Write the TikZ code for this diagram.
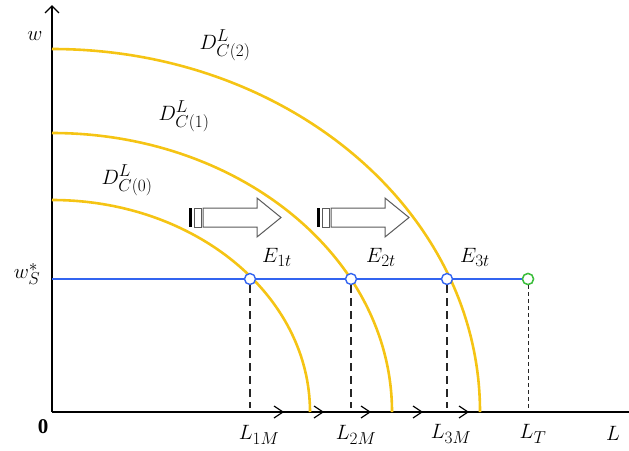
\documentclass[tikz,border=0pt]{standalone}
\usepackage{fontspec}
\setmainfont{Liberation Serif}
\usetikzlibrary{arrows.meta}
\DeclareMathSizes{21}{21}{17}{14}
\definecolor{curveyellow}{RGB}{245,196,20}
\definecolor{lineblue}{RGB}{50,100,240}
\definecolor{ptgreen}{RGB}{60,190,60}
\definecolor{arrgray}{RGB}{90,90,90}
\begin{document}
\begin{tikzpicture}[x=1pt,y=-1pt,
  font=\fontsize{21}{24}\selectfont,
  axis/.style={draw=black, line width=1.4pt},
  curve/.style={draw=curveyellow, line width=2.6pt},
  wline/.style={draw=lineblue, line width=2.6pt},
  ptc/.style={circle, draw=lineblue, fill=white, line width=1.4pt, inner sep=0pt, minimum size=11pt},
  ptg/.style={circle, draw=ptgreen, fill=white, line width=1.4pt, inner sep=0pt, minimum size=11pt},
  thickdash/.style={draw=black!85, line width=2.2pt, dash pattern=on 8pt off 5pt},
  thindash/.style={draw=black!85, line width=1pt, dash pattern=on 4pt off 3pt},
  blockarr/.style={draw=arrgray, fill=white, line width=1pt},
  lbl/.style={inner sep=0pt}]
\useasboundingbox (0,0) rectangle (629,450);
% axes
\coordinate (O) at (52,412);
\coordinate (ytop) at (52,5);
\coordinate (xend) at (629,412);
\draw[axis, -{Straight Barb[length=7pt,width=14pt,line width=1.4pt]}] (O) -- (ytop);
\draw[axis] (O) -- (xend);
% chevrons on x axis
\foreach \x in {283,323,370,422,468}
  \draw[axis, line width=1.2pt] (\x-9,406) -- (\x,412) -- (\x-9,418);
% w_S line
\coordinate (ws) at (52,279);
\node[ptg] (LTp) at (528,279) {};
\draw[wline] (ws) -- (LTp.west);
% demand curves
\draw[curve] (52,200) arc[start angle=270, end angle=360, x radius=258, y radius=212];
\draw[curve] (52,133) arc[start angle=270, end angle=360, x radius=340, y radius=279];
\draw[curve] (52,49) arc[start angle=270, end angle=360, x radius=428, y radius=363];
% equilibrium points
\node[ptc] (E1) at (250,279) {};
\node[ptc] (E2) at (351,279) {};
\node[ptc] (E3) at (447,279) {};
\node[ptg] (LTq) at (528,279) {};
% dashed drops
\coordinate (L1b) at (250,408);
\coordinate (L2b) at (351,408);
\coordinate (L3b) at (447,408);
\coordinate (LTb) at (528,408);
\draw[thickdash] (E1.south) -- (L1b);
\draw[thickdash] (E2.south) -- (L2b);
\draw[thickdash] (E3.south) -- (L3b);
\draw[thindash] (LTq.south) -- (LTb);
% block arrows
\foreach \x in {189,317}{
  \fill[black] (\x,208) rectangle (\x+3,227);
  \draw[blockarr] (\x+5,208) rectangle (\x+12,227);
  \draw[blockarr] (\x+14,208) -- (\x+68,208) -- (\x+68,198) -- (\x+92,217.5)
     -- (\x+68,237) -- (\x+68,227) -- (\x+14,227) -- cycle;
}
% labels
\node[lbl] (wlab) at (35,36) {$w$};
\node[lbl] (wslab) at (27,274) {$w_S^{*}$};
\node[lbl] (zero) at (43,427) {\bfseries 0};
\node[lbl] (Llab) at (613,433) {$L$};
\node[lbl] (L1lab) at (259,435) {$L_{1M}$};
\node[lbl] (L2lab) at (356,435) {$L_{2M}$};
\node[lbl] (L3lab) at (451,434) {$L_{3M}$};
\node[lbl] (LTlab) at (533,434) {$L_T$};
\node[lbl] (E1lab) at (277,257) {$E_{1t}$};
\node[lbl] (E2lab) at (381,257) {$E_{2t}$};
\node[lbl] (E3lab) at (475,257) {$E_{3t}$};
\node[lbl] (D2lab) at (225,45) {$D^{L}_{C(2)}$};
\node[lbl] (D1lab) at (184,116) {$D^{L}_{C(1)}$};
\node[lbl] (D0lab) at (127,180) {$D^{L}_{C(0)}$};
\end{tikzpicture}
\end{document}
